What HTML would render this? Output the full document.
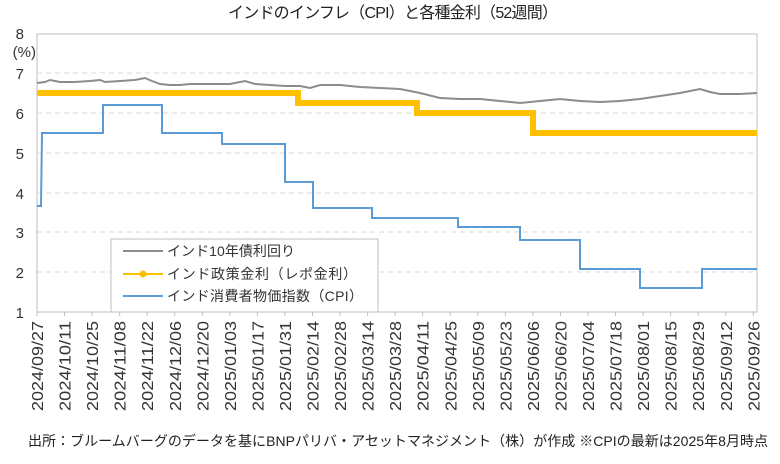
<!DOCTYPE html>
<html><head><meta charset="utf-8"><style>
body{margin:0;background:#fff;width:780px;height:459px;overflow:hidden;font-family:"Liberation Sans","Noto Sans CJK JP",sans-serif}
</style></head><body>
<svg width="780" height="459" xmlns="http://www.w3.org/2000/svg" style="font-family:'Liberation Sans','Noto Sans CJK JP',sans-serif">
<text x="393" y="18" font-size="16" text-anchor="middle" fill="#222" textLength="330">インドのインフレ（CPI）と各種金利（52週間）</text>
<g stroke="#d9d9d9" stroke-dasharray="5,4" stroke-width="1">
<line x1="37" x2="757" y1="73" y2="73"/><line x1="37" x2="757" y1="113" y2="113"/><line x1="37" x2="757" y1="153" y2="153"/><line x1="37" x2="757" y1="193" y2="193"/><line x1="37" x2="757" y1="232" y2="232"/><line x1="37" x2="757" y1="272" y2="272"/>
</g>
<rect x="37" y="34" width="720" height="278" fill="none" stroke="#bfbfbf"/>
<g font-size="15" fill="#333" text-anchor="end">
<text x="24" y="39">8</text><text x="36" y="57">(%)</text><text x="24" y="79">7</text><text x="24" y="119">6</text><text x="24" y="159">5</text><text x="24" y="199">4</text><text x="24" y="238">3</text><text x="24" y="278">2</text><text x="24" y="318">1</text>
</g>
<polyline fill="none" stroke="#8c8c8c" stroke-width="2" points="37,83 45,82 50,80 55,81 60,82 75,82 90,81 100,80 105,82 120,81 135,80 145,78 152,81 160,84 170,85 180,85 190,84 200,84 215,84 230,84 245,81 255,84 270,85 285,86 300,86 310,88 320,85 340,85 350,86 360,87 380,88 400,89 420,93 440,98 460,99 480,99 500,101 520,103 540,101 560,99 580,101 600,102 620,101 640,99 660,96 680,93 700,89 710,92 720,94 740,94 757,93"/>
<polyline fill="none" stroke="#ffc000" stroke-width="6" points="37,93 298,93 298,103 417,103 417,113 533,113 533,133 757,133"/>
<polyline fill="none" stroke="#5b9bd5" stroke-width="2" points="37,206 41,206 42,133 103,133 103,105 162,105 162,133 222,133 222,144 285,144 285,182 313,182 313,208 372,208 372,218 458,218 458,227 520,227 520,240 580,240 580,269 640,269 640,288 702,288 702,269 757,269"/>
<rect x="111" y="239" width="267" height="73" fill="#fff" stroke="#bfbfbf"/>
<line x1="123" x2="163" y1="251" y2="251" stroke="#8c8c8c" stroke-width="2"/>
<line x1="123" x2="163" y1="274" y2="274" stroke="#ffc000" stroke-width="2"/><circle cx="143" cy="274" r="3.5" fill="#ffc000"/>
<line x1="123" x2="163" y1="296" y2="296" stroke="#5b9bd5" stroke-width="2"/>
<g font-size="14" fill="#333"><text x="167" y="256" textLength="128">インド10年債利回り</text><text x="167" y="279" textLength="190">インド政策金利（レポ金利）</text><text x="167" y="301" textLength="196">インド消費者物価指数（CPI）</text></g>
<g font-size="16" fill="#333" id="xl"></g>
<text x="28" y="446" font-size="14" fill="#222" textLength="740">出所：ブルームバーグのデータを基にBNPパリバ・アセットマネジメント（株）が作成 ※CPIの最新は2025年8月時点</text>
</svg>
<script>
var L=["2024/09/27","2024/10/11","2024/10/25","2024/11/08","2024/11/22","2024/12/06","2024/12/20","2025/01/03","2025/01/17","2025/01/31","2025/02/14","2025/02/28","2025/03/14","2025/03/28","2025/04/11","2025/04/25","2025/05/09","2025/05/23","2025/06/06","2025/06/20","2025/07/04","2025/07/18","2025/08/01","2025/08/15","2025/08/29","2025/09/12","2025/09/26"];
var g=document.getElementById("xl"),ns="http://www.w3.org/2000/svg";
L.forEach(function(s,i){var x=37+i*27.55;var t=document.createElementNS(ns,"text");t.setAttribute("transform","translate("+(x+6)+",321) rotate(-90)");t.setAttribute("text-anchor","end");t.setAttribute("textLength","90");t.setAttribute("lengthAdjust","spacingAndGlyphs");t.textContent=s;g.appendChild(t);var l=document.createElementNS(ns,"line");l.setAttribute("x1",x);l.setAttribute("x2",x);l.setAttribute("y1",312);l.setAttribute("y2",316);l.setAttribute("stroke","#bfbfbf");g.appendChild(l);});
</script>
</body></html>
